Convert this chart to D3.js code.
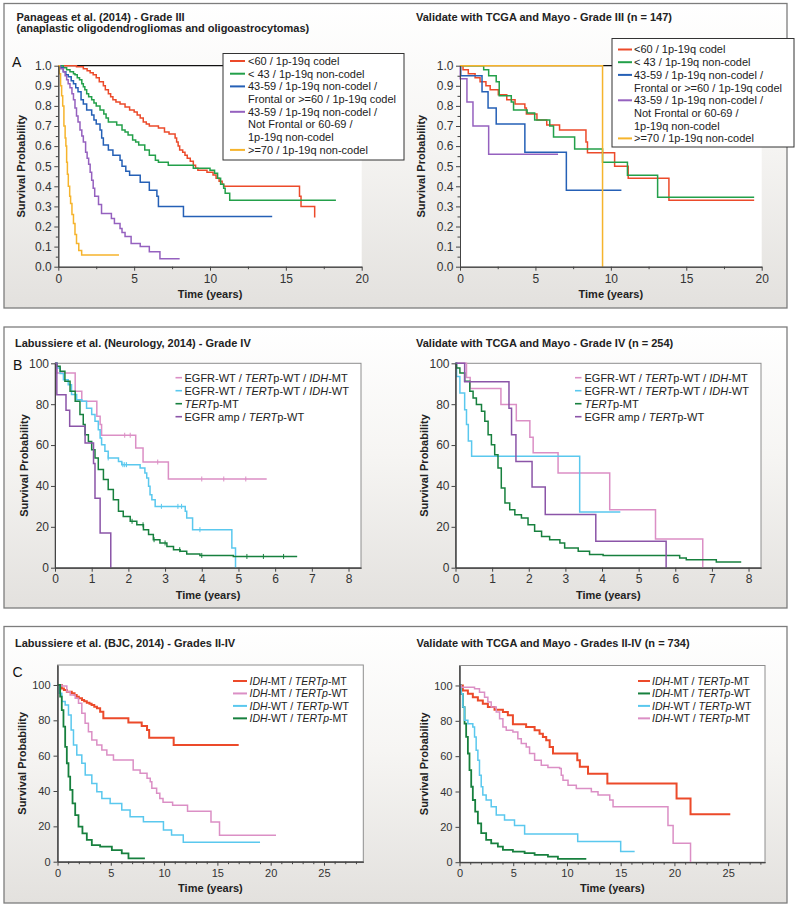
<!DOCTYPE html>
<html>
<head>
<meta charset="utf-8">
<script src="https://cdn.jsdelivr.net/npm/d3@7"></script>
<style>
body { margin: 0; background: #fff; }
svg text { font-family: "Liberation Sans", Arial, sans-serif; white-space: pre; }
</style>
</head>
<body>
<svg width="798" height="906"></svg>
<script>
// ---- data: Kaplan-Meier steps [time, survival] ----

// A left: Panageas et al. (2014)
var aRed = [[0,1],[1.2,0.995],[1.65,0.985],[1.9,0.975],[2.1,0.965],[2.3,0.955],[2.5,0.94],[2.7,0.92],[2.97,0.9],[3.1,0.88],[3.3,0.86],[3.45,0.845],[3.6,0.83],[3.8,0.82],[4.07,0.81],[4.4,0.795],[4.7,0.78],[5.0,0.77],[5.2,0.755],[5.4,0.74],[5.6,0.72],[5.8,0.71],[6.0,0.7],[6.6,0.69],[7.0,0.67],[7.3,0.66],[7.7,0.64],[7.8,0.62],[7.9,0.6],[8.0,0.58],[8.2,0.57],[8.35,0.555],[8.5,0.54],[8.7,0.525],[8.9,0.505],[9.05,0.49],[9.2,0.48],[9.8,0.47],[10.2,0.456],[10.4,0.44],[10.6,0.425],[10.8,0.41],[10.9,0.4],[15.9,0.35],[16.0,0.3],[16.9,0.245]];
var aGreen = [[0,1],[0.33,0.99],[0.55,0.98],[0.77,0.97],[1.0,0.96],[1.1,0.955],[1.25,0.94],[1.4,0.93],[1.55,0.91],[1.65,0.895],[1.75,0.88],[1.87,0.86],[2.0,0.845],[2.2,0.83],[2.35,0.815],[2.5,0.8],[2.75,0.78],[3.0,0.76],[3.15,0.74],[3.3,0.72],[3.85,0.705],[4.2,0.68],[4.4,0.67],[4.6,0.655],[4.9,0.63],[5.1,0.62],[5.3,0.605],[5.7,0.58],[6.0,0.555],[6.4,0.53],[6.6,0.52],[7.25,0.505],[8.9,0.49],[10.0,0.48],[10.3,0.465],[10.5,0.44],[10.7,0.41],[10.9,0.39],[11.0,0.365],[11.3,0.33],[18.3,0.33]];
var aBlue = [[0,1],[0.15,0.99],[0.33,0.97],[0.5,0.955],[0.66,0.945],[0.85,0.925],[1.0,0.91],[1.15,0.89],[1.3,0.87],[1.5,0.83],[1.65,0.81],[1.87,0.78],[2.2,0.755],[2.35,0.73],[2.5,0.71],[2.75,0.68],[2.86,0.64],[2.97,0.605],[3.3,0.58],[3.6,0.555],[4.07,0.53],[4.2,0.5],[4.45,0.475],[4.7,0.455],[5.4,0.42],[6.0,0.38],[6.5,0.35],[6.6,0.3],[8.25,0.25],[14.1,0.25]];
var aPurple = [[0,1],[0.1,0.985],[0.33,0.97],[0.45,0.95],[0.55,0.93],[0.65,0.91],[0.77,0.89],[0.9,0.86],[1.0,0.83],[1.1,0.79],[1.2,0.75],[1.3,0.72],[1.43,0.68],[1.55,0.65],[1.65,0.62],[1.8,0.57],[1.9,0.54],[2.0,0.51],[2.1,0.47],[2.2,0.43],[2.3,0.39],[2.4,0.35],[2.65,0.31],[2.85,0.265],[3.5,0.24],[3.7,0.215],[4.07,0.19],[4.2,0.17],[4.4,0.15],[4.8,0.115],[5.4,0.1],[6.0,0.075],[6.7,0.04],[8.0,0.04]];
var aYellow = [[0,1],[0.07,0.96],[0.15,0.9],[0.22,0.85],[0.29,0.8],[0.37,0.7],[0.45,0.64],[0.5,0.6],[0.55,0.52],[0.6,0.46],[0.66,0.4],[0.75,0.35],[0.81,0.315],[0.9,0.26],[1.0,0.215],[1.1,0.16],[1.2,0.115],[1.35,0.08],[1.54,0.058],[4.0,0.058]];

// A right: TCGA and Mayo - Grade III
var arRed = [[0,1],[0.2,0.98],[0.55,0.96],[1.0,0.94],[1.33,0.92],[1.72,0.9],[2.0,0.88],[2.54,0.855],[3.1,0.83],[3.65,0.81],[4.3,0.79],[4.4,0.76],[5.1,0.73],[5.75,0.705],[6.6,0.68],[8.35,0.62],[8.45,0.567],[10.25,0.5],[11.15,0.44],[13.85,0.33],[19.5,0.33]];
var arGreen = [[0,1],[1.57,0.98],[1.9,0.95],[2.4,0.92],[2.6,0.85],[3.4,0.82],[3.55,0.78],[4.45,0.765],[4.95,0.73],[5.95,0.7],[6.2,0.645],[7.6,0.585],[9.45,0.52],[11.1,0.455],[13.1,0.345],[19.5,0.345]];
var arBlue = [[0,1],[0.05,0.95],[1.46,0.87],[1.86,0.79],[2.4,0.71],[4.3,0.57],[7.05,0.38],[10.7,0.38]];
var arPurple = [[0,1],[0.02,0.935],[0.46,0.82],[0.86,0.7],[1.9,0.56],[6.5,0.56]];
var arYellow = [[0,1],[9.45,0]];

// B left: Labussiere et al. (Neurology, 2014), percent
var bPink = [[0,100],[0.05,95.3],[0.55,86.3],[0.73,81.4],[1.14,74.1],[1.23,70],[1.27,64.8],[2.2,58.6],[2.4,51.7],[3.09,43.4],[5.77,43.4]];
var bBlue = [[0,100],[0.06,97.7],[0.14,95],[0.23,92],[0.36,89.5],[0.45,84.7],[0.59,82.2],[0.73,81.4],[0.86,78],[1.0,75],[1.09,71.6],[1.18,67.5],[1.23,63.5],[1.27,60.2],[1.36,57],[1.45,53.7],[1.73,52],[1.82,50.4],[2.32,48.8],[2.45,46.3],[2.5,43.9],[2.55,39.8],[2.59,35.7],[2.64,33.3],[2.73,30],[3.55,27.6],[3.59,24.3],[3.75,18.6],[4.82,9.6],[4.92,0]];
var bGreen = [[0,100],[0.05,98.5],[0.14,96.1],[0.27,91.2],[0.41,86.3],[0.55,81.4],[0.68,74.9],[0.77,70],[0.82,65.1],[0.91,61.8],[1.0,57.7],[1.09,53.7],[1.18,48],[1.32,43.1],[1.45,38.2],[1.59,33.3],[1.73,27.6],[1.86,25.1],[2.05,22.7],[2.23,21],[2.41,18.6],[2.55,16.2],[2.68,13.7],[2.86,12.1],[3.05,10.4],[3.23,8.8],[3.41,8],[3.59,6.7],[3.95,6],[4.86,5.5],[6.6,5.5]];
var bPurple = [[0,100],[0.05,84.6],[0.3,77],[0.4,69.2],[0.82,61],[1.05,51],[1.09,34],[1.23,17],[1.52,0]];
var bPinkCensor = [1.9, 2.05, 2.8, 4.0, 4.6, 5.2];
var bBlueCensor = [1.45, 1.85, 1.9, 1.95, 2.9, 3.35, 3.45, 3.95];
var bGreenCensor = [2.1, 2.4, 2.7, 3.0, 3.4, 4.0, 5.23, 5.68, 6.23];

// B right: TCGA and Mayo - Grade IV
var brPink = [[0,100],[0.3,93],[0.4,87.7],[1.24,79.8],[1.66,71.9],[2.03,63.8],[2.12,56.2],[2.8,46.3],[4.21,28.4],[5.46,14],[6.75,0]];
var brBlue = [[0,100],[0.03,93.6],[0.12,85.5],[0.25,77.3],[0.3,70],[0.35,62],[0.44,54.5],[3.39,27.2],[4.5,27.2]];
var brGreen = [[0,100],[0.03,97.7],[0.12,95.3],[0.25,91.2],[0.39,86.3],[0.48,83],[0.57,79.8],[0.71,76.5],[0.8,71.6],[0.89,65.1],[0.98,60.2],[1.07,55.3],[1.16,48.8],[1.25,39],[1.35,31.6],[1.48,28.4],[1.62,25.9],[1.8,24.3],[1.98,21],[2.16,17.8],[2.35,15.3],[2.57,13.7],[2.85,12.1],[2.98,9.6],[3.35,8],[3.66,6.4],[4.03,6],[6.12,4.7],[6.3,3.9],[7.12,2.8],[7.8,2.8]];
var brPurple = [[0,100],[0.25,91],[1.46,78],[1.53,65],[1.65,52],[2.09,39.5],[2.45,26],[3.83,13],[5.75,0]];

// C left: Labussiere et al. (BJC, 2014)
var cRed = [[0,100],[0.4,98],[0.6,97.2],[0.875,96.2],[1.34,95.3],[1.6,94.3],[1.8,93.4],[2.0,92.5],[2.3,91.5],[2.5,90.8],[2.75,90],[3.0,89.4],[3.2,88.7],[3.45,87.7],[3.7,86.8],[4.0,84.9],[4.3,81.1],[6.65,78.7],[7.9,76.8],[8.4,74.5],[8.6,70.2],[10.9,66],[17.0,66]];
var cPink = [[0,100],[0.4,99.4],[0.875,96.2],[1.19,94.3],[1.66,92.5],[1.97,89.6],[2.28,84],[2.59,78.3],[2.9,73.6],[3.22,68.9],[3.69,66],[4.16,63.2],[4.63,60.4],[5.25,57.5],[7.1,51.9],[7.75,50],[8.4,47.2],[8.7,45.3],[8.85,41.5],[9.3,38.7],[9.6,35.8],[9.9,33.6],[10.8,32],[12.2,28.5],[14.4,22.5],[15.2,15],[20.5,15]];
var cBlue = [[0,100],[0.16,95.3],[0.4,90.6],[0.72,88.7],[1.03,83],[1.28,74.5],[1.5,66],[1.81,60.4],[2.28,55.7],[2.6,49],[3.22,44.3],[3.69,39.6],[4.16,35.8],[4.94,33],[6.03,29.2],[6.81,25.5],[8.06,22.6],[9.94,17.9],[10.7,15.1],[11.8,11],[19.0,11]];
var cGreen = [[0,100],[0.25,93.4],[0.4,85.8],[0.56,76.4],[0.72,65],[0.875,55.7],[1.03,48.1],[1.19,40.6],[1.41,33],[1.66,26.4],[1.97,19.8],[2.34,16],[2.75,12.3],[3.22,9.4],[4.0,8.5],[5.1,6.6],[6.03,4.7],[6.66,1.9],[8.2,1.9]];

// C right: TCGA and Mayo - Grades II-IV
var crRed = [[0,100],[0.31,97.2],[0.78,95.3],[1.24,93.4],[1.71,91.5],[2.17,89.7],[2.64,87.8],[3.26,86.3],[4.04,85],[4.5,83.1],[4.97,78],[6.2,76.5],[6.99,74.6],[7.45,72.7],[7.76,70.9],[8.07,69],[8.39,65.2],[8.7,61.5],[10.96,57.7],[11.2,54],[11.96,50],[13.76,44.5],[20.2,36.1],[21.5,27.1],[25.2,27.1]];
var crGreen = [[0,100],[0.16,95.3],[0.31,87.8],[0.47,78.4],[0.62,70.9],[0.78,61.5],[0.93,52.1],[1.09,42.7],[1.24,35.2],[1.46,28.6],[1.71,22],[2.02,16.4],[2.48,12.6],[2.95,10.7],[3.57,8.8],[4.04,7],[4.97,6],[6.06,5.1],[6.99,4.1],[8.23,3.2],[9.16,1.9],[11.8,1.9]];
var crBlue = [[0,100],[0.16,95.3],[0.31,87.8],[0.47,80.3],[0.78,78.4],[1.24,76.5],[1.4,70.9],[1.55,63.3],[1.71,57.7],[1.86,49.2],[2.02,42.7],[2.17,38],[2.48,35.2],[2.95,31.4],[3.42,26.7],[4.19,23.9],[5.12,20.7],[6.06,16],[11.0,11.7],[15.0,6],[16.3,6]];
var crPink = [[0,100],[0.16,99],[1.4,98.1],[1.86,96.2],[2.33,93.4],[2.64,90.6],[2.95,87.8],[3.42,85],[3.73,81.2],[4.04,76.5],[4.35,74.6],[4.97,73.7],[5.43,69.9],[5.75,67.1],[6.21,65.2],[6.52,61.5],[6.99,57.7],[7.61,54.9],[8.23,53.6],[9.32,53],[9.47,49.2],[9.63,46.4],[10.1,43.6],[10.87,41.7],[12.27,39.8],[12.89,38],[13.98,35.2],[14.29,31.4],[19.4,20.7],[19.88,10.7],[21.5,0]];

// legend labels (<i> marks italic)
var aLegend = [["<60 / 1p-19q codel"], ["< 43 / 1p-19q non-codel"], ["43-59 / 1p-19q non-codel /", "Frontal or >=60 / 1p-19q codel"], ["43-59 / 1p-19q non-codel /", "Not Frontal or 60-69 /", "1p-19q non-codel"], [">=70 / 1p-19q non-codel"]];
var bLegend = ["EGFR-WT / <i>TERT</i>p-WT / <i>IDH</i>-MT", "EGFR-WT / <i>TERT</i>p-WT / <i>IDH</i>-WT", "<i>TERT</i>p-MT", "EGFR amp / <i>TERT</i>p-WT"];
var cLegend = ["<i>IDH</i>-MT / <i>TERTp</i>-MT", "<i>IDH</i>-MT / <i>TERTp</i>-WT", "<i>IDH</i>-WT / <i>TERTp</i>-WT", "<i>IDH</i>-WT / <i>TERTp</i>-MT"];

var titles = ["Panageas et al. (2014) - Grade III", "(anaplastic oligodendrogliomas and oligoastrocytomas)", "Validate with TCGA and Mayo - Grade III (n = 147)",
    "Labussiere et al. (Neurology, 2014) - Grade IV", "Validate with TCGA and Mayo - Grade IV (n = 254)",
    "Labussiere et al. (BJC, 2014) - Grades II-IV", "Validate with TCGA and Mayo - Grades II-IV (n = 734)"];

var RED = '#ec4a2a', GREEN = '#23a04a', BLUE = '#2560b6', PURPLE = '#9561bf', YELLOW = '#f6b42c',
    PINK = '#db8fc5', LBLUE = '#5ac8ee', DGREEN = '#17803e', PURPLE2 = '#8b55a8';

var svg = d3.select('svg');
var defs = svg.append('defs');
var grad = defs.append('linearGradient').attr('id', 'panelBg')
    .attr('x1', 0).attr('y1', 0).attr('x2', 0).attr('y2', 1);
grad.append('stop').attr('offset', '0%').attr('stop-color', '#ffffff');
grad.append('stop').attr('offset', '45%').attr('stop-color', '#f6f5f3');
grad.append('stop').attr('offset', '100%').attr('stop-color', '#e3e1de');

// panel boxes
[[3.5, 308], [327, 608], [626.5, 903]].forEach(function (p) {
    svg.append('rect')
        .attr('x', 4).attr('y', p[0])
        .attr('width', 783).attr('height', p[1] - p[0])
        .attr('fill', 'url(#panelBg)')
        .attr('stroke', '#7d7d7d').attr('stroke-width', 1.3);
});

function rich(textSel, str) {
    str.split(/(<i>.*?<\/i>)/).filter(function (s) { return s.length; }).forEach(function (s) {
        var it = s.indexOf('<i>') === 0;
        textSel.append('tspan')
            .attr('font-style', it ? 'italic' : null)
            .text(it ? s.slice(3, -4) : s);
    });
}

function survAt(data, t) {
    var s = data[0][1];
    data.forEach(function (d) { if (d[0] <= t) s = d[1]; });
    return s;
}

function drawChart(o) {
    var x = d3.scaleLinear().domain([0, o.xMax]).range([o.left, o.right]);
    var y = d3.scaleLinear().domain([0, o.yMax]).range([o.bottom, o.top]);
    var g = svg.append('g');

    g.append('rect')
        .attr('x', o.left).attr('y', o.top)
        .attr('width', o.right - o.left).attr('height', o.bottom - o.top)
        .attr('fill', '#fff')
        .attr('stroke', o.frame ? '#8e8e8e' : 'none');

    if (o.topLine) {
        g.append('line')
            .attr('x1', x(0)).attr('x2', x(o.topLine))
            .attr('y1', y(o.yMax)).attr('y2', y(o.yMax))
            .attr('stroke', '#111').attr('stroke-width', 1.2);
    }

    var line = d3.line().curve(d3.curveStepAfter)
        .x(function (d) { return x(d[0]); })
        .y(function (d) { return y(d[1]); });

    o.series.forEach(function (s) {
        g.append('path').datum(s.data)
            .attr('d', line)
            .attr('fill', 'none')
            .attr('stroke', s.color)
            .attr('stroke-width', s.width || 1.5);
        (s.censor || []).forEach(function (t) {
            var yy = y(survAt(s.data, t));
            g.append('line')
                .attr('x1', x(t)).attr('x2', x(t))
                .attr('y1', yy - 2.5).attr('y2', yy + 2.5)
                .attr('stroke', s.color).attr('stroke-width', 1);
        });
    });

    // axes
    var fs = o.tickFont;
    var xMinor = g.append('g').attr('transform', 'translate(0,' + o.bottom + ')')
        .call(d3.axisBottom(x).tickValues(o.xMinor || []).tickSize(2.5).tickSizeOuter(0).tickFormat(''));
    var xAx = g.append('g').attr('transform', 'translate(0,' + o.bottom + ')')
        .call(d3.axisBottom(x).tickValues(o.xTicks).tickSize(4).tickPadding(o.xPad).tickSizeOuter(0).tickFormat(d3.format('d')));
    var yMinor = g.append('g').attr('transform', 'translate(' + o.left + ',0)')
        .call(d3.axisLeft(y).tickValues(o.yMinor || []).tickSize(2.5).tickSizeOuter(0).tickFormat(''));
    var yAx = g.append('g').attr('transform', 'translate(' + o.left + ',0)')
        .call(d3.axisLeft(y).tickValues(o.yTicks).tickSize(4).tickPadding(o.yPad).tickSizeOuter(0).tickFormat(d3.format(o.yFmt)));
    [xMinor, xAx, yMinor, yAx].forEach(function (a) {
        a.select('.domain').attr('stroke', '#444');
        a.selectAll('.tick line').attr('stroke', '#444');
        a.selectAll('text').attr('fill', '#333').attr('font-size', fs)
            .attr('font-family', '"Liberation Sans", Arial, sans-serif');
    });
    if (o.xRange) {
        xAx.select('.domain').attr('d', 'M' + x(0) + ',0H' + x(o.xRange));
        xMinor.select('.domain').remove();
    }

    g.append('text')
        .attr('transform', 'translate(' + o.yLabelX + ',' + ((o.top + o.bottom) / 2) + ') rotate(-90)')
        .attr('text-anchor', 'middle')
        .attr('font-size', 11).attr('font-weight', 'bold').attr('fill', '#222')
        .text('Survival Probability');
    g.append('text')
        .attr('x', (o.left + (o.xRange ? x(o.xRange) : o.right)) / 2).attr('y', o.xLabelY)
        .attr('text-anchor', 'middle')
        .attr('font-size', 11).attr('font-weight', 'bold').attr('fill', '#222')
        .text('Time (years)');

    // legend
    var L = o.legend;
    if (L.box) {
        g.append('rect')
            .attr('x', L.box[0]).attr('y', L.box[1])
            .attr('width', L.box[2] - L.box[0]).attr('height', L.box[3] - L.box[1])
            .attr('fill', '#fff').attr('stroke', '#333').attr('stroke-width', 1);
    }
    var row = 0;
    L.items.forEach(function (lines, i) {
        var cy = L.y0 + row * L.dy;
        g.append('line')
            .attr('x1', L.x0).attr('x2', L.x1)
            .attr('y1', cy).attr('y2', cy)
            .attr('stroke', o.series[i].color).attr('stroke-width', L.lw || 2);
        (Array.isArray(lines) ? lines : [lines]).forEach(function (txt) {
            var t = g.append('text')
                .attr('x', L.tx).attr('y', L.y0 + row * L.dy + L.fs * 0.36)
                .attr('font-size', L.fs).attr('fill', '#222');
            rich(t, txt);
            row++;
        });
    });
}

// ---- panel A ----
var aYTicks = d3.range(0, 11).map(function (d) { return d / 10; });
var aYMinor = d3.range(0, 10).map(function (d) { return d / 10 + 0.05; });
drawChart({
    left: 58.3, right: 361.7, xMax: 20, top: 65.7, bottom: 266.7, yMax: 1,
    topLine: 20, xTicks: [0, 5, 10, 15, 20], xMinor: [2.5, 7.5, 12.5, 17.5],
    yTicks: aYTicks, yMinor: aYMinor, yFmt: '.1f', tickFont: 12, xPad: 3.5, yPad: 2.5,
    yLabelX: 25, xLabelY: 298,
    series: [{data: aRed, color: RED}, {data: aGreen, color: GREEN}, {data: aBlue, color: BLUE},
             {data: aPurple, color: PURPLE}, {data: aYellow, color: YELLOW}],
    legend: {box: [223, 53.5, 404, 160], x0: 230, x1: 245, tx: 248, y0: 61, dy: 12.7, fs: 11, items: aLegend}
});
drawChart({
    left: 460, right: 761.7, xMax: 20, top: 65.7, bottom: 266.7, yMax: 1,
    topLine: 20, xTicks: [0, 5, 10, 15, 20], xMinor: [2.5, 7.5, 12.5, 17.5],
    yTicks: aYTicks, yMinor: aYMinor, yFmt: '.1f', tickFont: 12, xPad: 3.5, yPad: 2.5,
    yLabelX: 425, xLabelY: 298,
    series: [{data: arRed, color: RED}, {data: arGreen, color: GREEN}, {data: arBlue, color: BLUE},
             {data: arPurple, color: PURPLE}, {data: arYellow, color: YELLOW}],
    legend: {box: [612, 38.5, 794, 147], x0: 618, x1: 632, tx: 634, y0: 49.5, dy: 12.7, fs: 11, items: aLegend}
});

// ---- panel B ----
var bXTicks = d3.range(0, 9);
var bYTicks = [0, 20, 40, 60, 80, 100];
drawChart({
    left: 55, right: 361, xMax: 8.34, top: 363.3, bottom: 567.7, yMax: 100, frame: true,
    xTicks: bXTicks, yTicks: bYTicks, yFmt: 'd', tickFont: 12, xPad: 2.5, yPad: 2,
    yLabelX: 28, xLabelY: 598.5,
    series: [{data: bPink, color: PINK, censor: bPinkCensor}, {data: bBlue, color: LBLUE, censor: bBlueCensor},
             {data: bGreen, color: DGREEN, censor: bGreenCensor}, {data: bPurple, color: PURPLE2}],
    legend: {x0: 175.5, x1: 182, tx: 184.5, y0: 377.7, dy: 13, fs: 11, lw: 1.6, items: bLegend}
});
drawChart({
    left: 455.5, right: 761, xMax: 8.34, top: 363.3, bottom: 567.7, yMax: 100, frame: true,
    xTicks: bXTicks, yTicks: bYTicks, yFmt: 'd', tickFont: 12, xPad: 2.5, yPad: 2,
    yLabelX: 428, xLabelY: 598.5,
    series: [{data: brPink, color: PINK}, {data: brBlue, color: LBLUE},
             {data: brGreen, color: DGREEN}, {data: brPurple, color: PURPLE2}],
    legend: {x0: 575, x1: 581.5, tx: 584.5, y0: 377.7, dy: 13, fs: 11, lw: 1.6, items: bLegend}
});

// ---- panel C ----
var cXTicks = [0, 5, 10, 15, 20, 25];
var cXMinor = d3.range(1, 29).filter(function (d) { return d % 5; });
drawChart({
    left: 57.5, right: 363.3, xMax: 28.69, top: 665, bottom: 861.7, yMax: 111.3, frame: true,
    xTicks: cXTicks, xMinor: cXMinor, yTicks: bYTicks, yFmt: 'd', tickFont: 11, xPad: 3.5, yPad: 3,
    yLabelX: 26, xLabelY: 891.5,
    series: [{data: cRed, color: RED, width: 2}, {data: cPink, color: PINK},
             {data: cBlue, color: LBLUE}, {data: cGreen, color: DGREEN, width: 1.8}],
    legend: {x0: 233, x1: 247, tx: 249.5, y0: 681, dy: 12.45, fs: 10.5, items: cLegend}
});
drawChart({
    left: 459.5, right: 765, xMax: 28.43, top: 665.5, bottom: 862.2, yMax: 111.3, frame: true,
    xTicks: cXTicks, xMinor: cXMinor, yTicks: bYTicks, yFmt: 'd', tickFont: 11, xPad: 3.5, yPad: 3,
    yLabelX: 428, xLabelY: 891.5,
    series: [{data: crRed, color: RED, width: 2}, {data: crGreen, color: DGREEN, width: 1.8},
             {data: crBlue, color: LBLUE}, {data: crPink, color: PINK}],
    legend: {x0: 638, x1: 650, tx: 652, y0: 681, dy: 12.45, fs: 10.5, items: cLegend}
});

// ---- titles and panel letters ----
var titlePos = [[16.5, 20.5], [16.5, 31.5], [416, 20.5], [15, 346.5], [416, 346.5], [15, 647], [416.5, 647]];
titles.forEach(function (t, i) {
    svg.append('text')
        .attr('x', titlePos[i][0]).attr('y', titlePos[i][1])
        .attr('font-size', 11).attr('font-weight', 'bold').attr('fill', '#222')
        .text(t);
});
[['A', 12, 67], ['B', 13, 369.5], ['C', 12.5, 677]].forEach(function (l) {
    svg.append('text').attr('x', l[1]).attr('y', l[2])
        .attr('font-size', 14).attr('fill', '#111').text(l[0]);
});
</script>
</body>
</html>
